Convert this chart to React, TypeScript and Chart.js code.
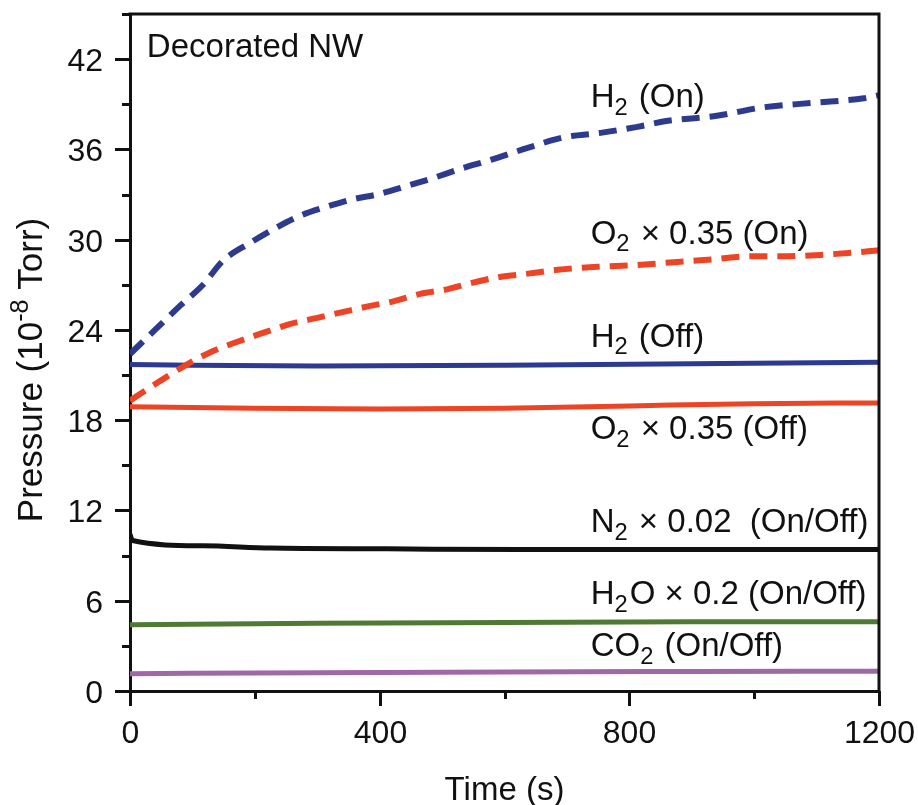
import React, { useEffect, useRef } from "react";
import { Chart, registerables } from "chart.js";

Chart.register(...registerables);

// ---------- data ----------
const h2OnTime = [0, 40, 80, 117, 149, 193, 230, 273, 316, 358, 396, 438, 486, 529, 578, 637, 695, 754, 813, 862, 935, 1015, 1096, 1176, 1200];
const h2OnPressure = [22.4, 24.0, 25.6, 27.0, 28.6, 29.8, 30.7, 31.6, 32.2, 32.7, 33.0, 33.5, 34.1, 34.7, 35.3, 36.1, 36.8, 37.1, 37.5, 37.9, 38.2, 38.8, 39.1, 39.4, 39.6];

const o2OnTime = [0, 48, 91, 128, 171, 213, 257, 300, 342, 385, 422, 465, 508, 545, 589, 630, 685, 749, 807, 871, 935, 995, 1054, 1112, 1176, 1200];
const o2OnPressure = [19.3, 20.6, 21.7, 22.5, 23.2, 23.8, 24.4, 24.8, 25.2, 25.6, 25.9, 26.4, 26.7, 27.1, 27.5, 27.7, 28.0, 28.2, 28.3, 28.5, 28.7, 28.9, 28.9, 29.0, 29.2, 29.3];

const h2OffTime = [0, 300, 600, 900, 1200];
const h2OffPressure = [21.7, 21.6, 21.65, 21.75, 21.85];

const o2OffTime = [0, 200, 400, 600, 800, 1000, 1200];
const o2OffPressure = [18.9, 18.8, 18.75, 18.8, 18.95, 19.1, 19.15];

const n2Time = [0, 4, 117, 225, 412, 626, 900, 1200];
const n2Pressure = [10.4, 10.0, 9.65, 9.5, 9.45, 9.4, 9.4, 9.4];

const h2oTime = [0, 300, 600, 900, 1200];
const h2oPressure = [4.4, 4.5, 4.55, 4.6, 4.6];

const co2Time = [0, 300, 600, 900, 1200];
const co2Pressure = [1.15, 1.22, 1.27, 1.3, 1.32];

const xTickStep = 200;
const xMajorEvery = 400;
const yTickStep = 3;
const yMajorEvery = 6;

type Seg = { t: string; sub?: boolean; sup?: boolean };

const annotations: { time: number; value: number; segs: Seg[] }[] = [
  { time: 27, value: 42.13, segs: [{ t: "Decorated NW" }] },
  { time: 738, value: 38.8, segs: [{ t: "H" }, { t: "2", sub: true }, { t: " (On)" }] },
  { time: 738, value: 29.7, segs: [{ t: "O" }, { t: "2", sub: true }, { t: " × 0.35 (On)" }] },
  { time: 738, value: 22.85, segs: [{ t: "H" }, { t: "2", sub: true }, { t: " (Off)" }] },
  { time: 738, value: 16.73, segs: [{ t: "O" }, { t: "2", sub: true }, { t: " × 0.35 (Off)" }] },
  { time: 738, value: 10.55, segs: [{ t: "N" }, { t: "2", sub: true }, { t: " × 0.02  (On/Off)" }] },
  { time: 738, value: 5.76, segs: [{ t: "H" }, { t: "2", sub: true }, { t: "O × 0.2 (On/Off)" }] },
  { time: 738, value: 2.31, segs: [{ t: "CO" }, { t: "2", sub: true }, { t: " (On/Off)" }] },
];

const yTitle: Seg[] = [{ t: "Pressure (10" }, { t: "-8", sup: true }, { t: " Torr)" }];
const xTitle: Seg[] = [{ t: "Time (s)" }];

const FONT = '"Liberation Sans", Arial, sans-serif';

const pts = (t: number[], p: number[]) => t.map((x, i) => ({ x, y: p[i] }));

function segWidth(ctx: CanvasRenderingContext2D, segs: Seg[], size: number) {
  let w = 0;
  for (const s of segs) {
    const fs = s.sub || s.sup ? size * 0.72 : size;
    ctx.font = `${fs}px ${FONT}`;
    w += ctx.measureText(s.t).width + (s.sub ? 2 : 0);
  }
  return w;
}

function drawRich(ctx: CanvasRenderingContext2D, segs: Seg[], x: number, y: number, size: number) {
  let cx = x;
  for (const s of segs) {
    const fs = s.sub || s.sup ? size * 0.72 : size;
    ctx.font = `${fs}px ${FONT}`;
    const dy = s.sub ? size * 0.22 : s.sup ? -size * 0.4 : 0;
    ctx.fillText(s.t, cx, y + dy);
    cx += ctx.measureText(s.t).width + (s.sub ? 2 : 0);
  }
}

const decorPlugin = {
  id: "decor",
  afterDraw(chart: any) {
    const ctx: CanvasRenderingContext2D = chart.ctx;
    const { left, right, top, bottom } = chart.chartArea;
    const xs = chart.scales.x;
    const ys = chart.scales.y;
    ctx.save();
    ctx.strokeStyle = "#111";
    ctx.lineWidth = 3;
    // top and right frame
    ctx.beginPath();
    ctx.moveTo(left - 1.5, top);
    ctx.lineTo(right, top);
    ctx.lineTo(right, bottom);
    ctx.stroke();
    // ticks and tick labels
    ctx.fillStyle = "#111";
    ctx.font = `32px ${FONT}`;
    ctx.beginPath();
    ctx.textAlign = "right";
    ctx.textBaseline = "alphabetic";
    for (const t of ys.ticks) {
      const py = Math.round(ys.getPixelForValue(t.value)) + 0.5;
      const major = t.value % yMajorEvery === 0;
      ctx.moveTo(left, py);
      ctx.lineTo(left - (major ? 15 : 8), py);
      if (major && t.value <= 42) ctx.fillText(String(t.value), left - 27, py + 11.5);
    }
    ctx.textAlign = "center";
    for (const t of xs.ticks) {
      const px = Math.round(xs.getPixelForValue(t.value)) + 0.5;
      const major = t.value % xMajorEvery === 0;
      ctx.moveTo(px, bottom);
      ctx.lineTo(px, bottom + (major ? 15 : 8));
      if (major) ctx.fillText(String(t.value), px, bottom + 52);
    }
    ctx.stroke();

    // annotations
    ctx.textAlign = "left";
    for (const a of annotations) {
      drawRich(ctx, a.segs, xs.getPixelForValue(a.time), ys.getPixelForValue(a.value), 33);
    }

    // axis titles
    const xw = segWidth(ctx, xTitle, 33);
    drawRich(ctx, xTitle, (left + right) / 2 - xw / 2, 800, 33);

    const yw = segWidth(ctx, yTitle, 35);
    ctx.translate(42, 370);
    ctx.rotate(-Math.PI / 2);
    drawRich(ctx, yTitle, -yw / 2, 0, 35);
    ctx.restore();
  },
};

export default function App() {
  const ref = useRef<HTMLCanvasElement>(null);
  useEffect(() => {
    if (!ref.current) return;
    const lineDs = (label: string, t: number[], p: number[], color: string, dashed: boolean) => ({
      label,
      data: pts(t, p),
      borderColor: color,
      backgroundColor: color,
      borderWidth: dashed ? 6 : 5,
      borderDash: dashed ? [18, 10] : [],
      pointRadius: 0,
      fill: false,
      cubicInterpolationMode: "monotone" as const,
    });
    const chart = new Chart(ref.current, {
      type: "line",
      data: {
        datasets: [
          lineDs("H2 (On)", h2OnTime, h2OnPressure, "#2D3A8E", true),
          lineDs("O2 x 0.35 (On)", o2OnTime, o2OnPressure, "#EE4426", true),
          lineDs("H2 (Off)", h2OffTime, h2OffPressure, "#2C3A92", false),
          lineDs("O2 x 0.35 (Off)", o2OffTime, o2OffPressure, "#EE4426", false),
          lineDs("N2 x 0.02 (On/Off)", n2Time, n2Pressure, "#111111", false),
          lineDs("H2O x 0.2 (On/Off)", h2oTime, h2oPressure, "#4F7A35", false),
          lineDs("CO2 (On/Off)", co2Time, co2Pressure, "#A068A6", false),
        ],
      },
      options: {
        responsive: false,
        animation: false,
        events: [],
        layout: { padding: { top: 14, right: 39, left: 0, bottom: 0 } },
        plugins: { legend: { display: false }, tooltip: { enabled: false } },
        scales: {
          x: {
            type: "linear",
            min: 0,
            max: 1200,
            grid: { display: false },
            border: { display: true, width: 3, color: "#111" },
            ticks: { stepSize: xTickStep, autoSkip: false, display: false },
            afterFit: (s: any) => {
              s.height = 114;
              s.paddingLeft = 0;
              s.paddingRight = 0;
            },
          },
          y: {
            type: "linear",
            min: 0,
            max: 45,
            grid: { display: false },
            border: { display: true, width: 3, color: "#111" },
            ticks: { stepSize: yTickStep, autoSkip: false, display: false },
            afterFit: (s: any) => {
              s.width = 130;
              s.paddingTop = 0;
              s.paddingBottom = 0;
            },
          },
        },
      },
      plugins: [decorPlugin],
    });
    return () => chart.destroy();
  }, []);
  return (
    <canvas
      ref={ref}
      width={918}
      height={805}
      style={{ position: "absolute", left: 0, top: 0, width: 918, height: 805, background: "#fff" }}
    />
  );
}
